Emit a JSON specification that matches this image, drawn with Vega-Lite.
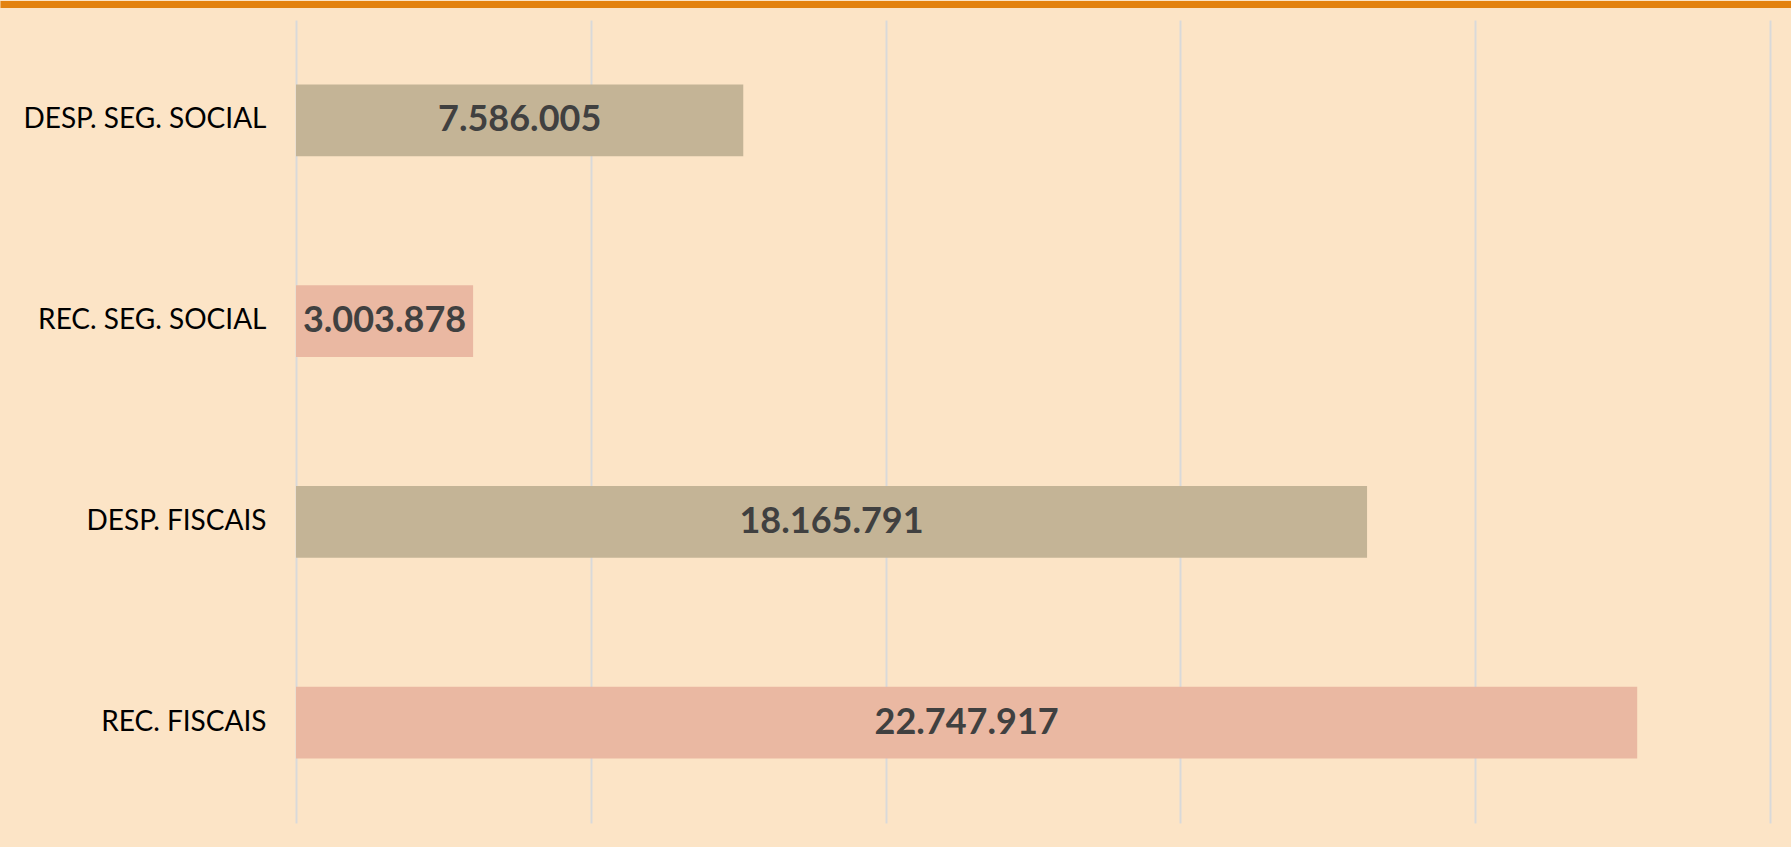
{
  "$schema": "https://vega.github.io/schema/vega-lite/v6.json",
  "width": 1791,
  "height": 803,
  "autosize": {"type": "none"},
  "padding": {"left": 0, "top": 20, "right": 0, "bottom": 24},
  "background": "#FCE4C6",
  "config": {
    "view": {"stroke": null},
    "locale": {"number": {"decimal": ",", "thousands": ".", "grouping": [3], "currency": ["R$", ""]}}
  },
  "data": {
    "values": [
      {"categoria": "DESP. SEG. SOCIAL", "valor": 7586005, "tipo": "Despesa"},
      {"categoria": "REC. SEG. SOCIAL", "valor": 3003878, "tipo": "Receita"},
      {"categoria": "DESP. FISCAIS", "valor": 18165791, "tipo": "Despesa"},
      {"categoria": "REC. FISCAIS", "valor": 22747917, "tipo": "Receita"}
    ]
  },
  "encoding": {
    "y": {
      "field": "categoria",
      "type": "nominal",
      "sort": null,
      "scale": {"paddingInner": 0.643, "paddingOuter": 0.3215},
      "axis": {
        "orient": "left",
        "offset": -296,
        "domain": false,
        "ticks": false,
        "grid": false,
        "title": null,
        "labelPadding": 30,
        "labelLimit": 500,
        "labelFont": "Lato",
        "labelFontSize": 28,
        "labelColor": "#000000",
        "labelAlign": "right"
      }
    }
  },
  "layer": [
    {
      "mark": {"type": "bar"},
      "encoding": {
        "x": {
          "field": "valor",
          "type": "quantitative",
          "scale": {"domain": [-5020353, 25356174], "nice": false, "zero": false},
          "axis": {
            "orient": "top",
            "values": [0, 5000000, 10000000, 15000000, 20000000, 25000000],
            "grid": true,
            "gridColor": "#D9D9D9",
            "gridWidth": 2,
            "labels": false,
            "ticks": false,
            "title": null,
            "domain": true,
            "domainColor": "#E3820F",
            "domainWidth": 7,
            "offset": 16
          }
        },
        "x2": {"datum": 0},
        "color": {
          "field": "tipo",
          "type": "nominal",
          "scale": {"domain": ["Despesa", "Receita"], "range": ["#C4B496", "#EAB8A2"]},
          "legend": null
        }
      }
    },
    {
      "mark": {"type": "text", "font": "Lato", "fontWeight": "bold", "fontSize": 36, "color": "#404040", "align": "center", "baseline": "middle"},
      "encoding": {
        "x": {
          "field": "valor",
          "type": "quantitative",
          "scale": {"domain": [-10040706, 50712348], "nice": false, "zero": false},
          "axis": null
        },
        "text": {"field": "valor", "type": "quantitative", "format": ",d"}
      }
    }
  ],
  "resolve": {"scale": {"x": "independent"}}
}
